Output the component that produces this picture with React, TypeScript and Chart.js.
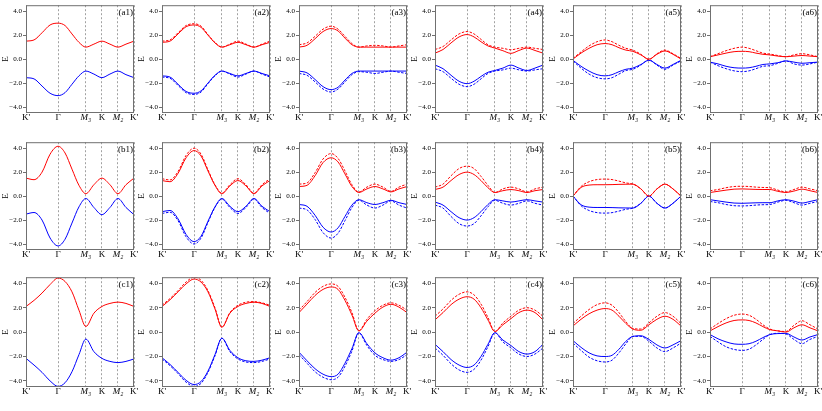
import React, { useEffect, useRef } from 'react';
import { Chart, registerables } from 'chart.js';
Chart.register(...registerables);

// k-path positions (K' -> Γ -> M3 -> K -> M2 -> K')
const kTicks = [0, 1, 1.866, 2.366, 2.866, 3.366];
const kTickLabels = ["K'", 'Γ', 'M₃', 'K', 'M₂', "K'"];
const yTicks = [-4, -2, 0, 2, 4];
const kx = [0, 0.25, 0.5, 0.75, 1, 1.217, 1.433, 1.65, 1.866, 2.116, 2.366, 2.616, 2.866, 3.116, 3.366];

// ---- row a ----
const a1Red = [1.5, 1.6, 2.2, 2.85, 3.0, 2.8, 2.1, 1.4, 1.0, 1.25, 1.5, 1.25, 1.0, 1.25, 1.5];
const a1Blue = [-1.55, -1.65, -2.25, -2.85, -3.05, -2.8, -2.1, -1.4, -1.0, -1.25, -1.55, -1.25, -1.0, -1.3, -1.55];

const a2RedSolid = [1.4, 1.5, 2.1, 2.7, 2.85, 2.65, 2.0, 1.35, 1.0, 1.2, 1.4, 1.2, 1.0, 1.2, 1.4];
const a2RedDash = [1.5, 1.6, 2.2, 2.8, 2.95, 2.75, 2.05, 1.4, 1.0, 1.25, 1.5, 1.25, 1.0, 1.25, 1.5];
const a2BlueSolid = [-1.4, -1.5, -2.1, -2.7, -2.85, -2.65, -2.0, -1.35, -1.0, -1.2, -1.4, -1.2, -1.0, -1.2, -1.4];
const a2BlueDash = [-1.5, -1.6, -2.2, -2.8, -2.95, -2.75, -2.05, -1.4, -1.0, -1.25, -1.5, -1.25, -1.0, -1.25, -1.5];

const a3RedSolid = [1.0, 1.15, 1.7, 2.3, 2.55, 2.35, 1.75, 1.2, 1.0, 1.0, 1.0, 1.0, 1.0, 1.0, 1.0];
const a3RedDash = [1.2, 1.35, 1.9, 2.5, 2.75, 2.5, 1.9, 1.3, 1.0, 1.1, 1.15, 1.1, 1.0, 1.1, 1.2];
const a3BlueSolid = [-1.0, -1.15, -1.7, -2.3, -2.55, -2.35, -1.75, -1.2, -1.0, -1.0, -1.0, -1.0, -1.0, -1.0, -1.0];
const a3BlueDash = [-1.2, -1.35, -1.9, -2.5, -2.75, -2.5, -1.9, -1.3, -1.05, -1.1, -1.2, -1.1, -1.0, -1.1, -1.2];

const a4RedSolid = [0.5, 0.8, 1.35, 1.85, 2.05, 1.85, 1.45, 1.1, 0.92, 0.7, 0.48, 0.72, 0.92, 0.72, 0.5];
const a4RedDash = [0.8, 1.05, 1.6, 2.1, 2.3, 2.1, 1.65, 1.2, 1.0, 0.9, 0.78, 0.9, 1.0, 0.9, 0.8];
const a4BlueSolid = [-0.5, -0.8, -1.35, -1.85, -2.05, -1.85, -1.45, -1.1, -0.95, -0.75, -0.5, -0.75, -0.95, -0.75, -0.5];
const a4BlueDash = [-0.8, -1.05, -1.6, -2.1, -2.3, -2.1, -1.65, -1.2, -1.0, -0.9, -0.75, -0.9, -1.0, -0.9, -0.8];

const a5RedSolid = [0.0, 0.5, 0.9, 1.2, 1.3, 1.2, 0.95, 0.75, 0.65, 0.35, 0.0, 0.4, 0.68, 0.4, 0.0];
const a5RedDash = [0.05, 0.6, 1.1, 1.45, 1.6, 1.45, 1.15, 0.9, 0.75, 0.4, -0.05, 0.45, 0.75, 0.45, 0.05];
const a5BlueSolid = [-0.1, -0.6, -1.0, -1.3, -1.4, -1.3, -1.05, -0.85, -0.75, -0.45, -0.1, -0.45, -0.75, -0.45, -0.1];
const a5BlueDash = [-0.15, -0.75, -1.25, -1.55, -1.65, -1.55, -1.25, -0.95, -0.85, -0.5, -0.05, -0.5, -0.85, -0.5, -0.15];

const a6RedSolid = [0.2, 0.35, 0.5, 0.62, 0.65, 0.62, 0.5, 0.4, 0.35, 0.25, 0.2, 0.25, 0.3, 0.25, 0.2];
const a6RedDash = [0.2, 0.45, 0.7, 0.9, 1.0, 0.9, 0.7, 0.5, 0.42, 0.3, 0.2, 0.35, 0.45, 0.35, 0.2];
const a6BlueSolid = [-0.25, -0.4, -0.6, -0.72, -0.75, -0.72, -0.6, -0.45, -0.4, -0.3, -0.15, -0.25, -0.35, -0.3, -0.25];
const a6BlueDash = [-0.25, -0.55, -0.8, -0.98, -1.05, -0.98, -0.8, -0.6, -0.55, -0.35, -0.15, -0.4, -0.5, -0.4, -0.25];

// ---- row b ----
const b1Red = [1.5, 1.37, 2.0, 3.5, 4.16, 3.6, 2.25, 0.9, 0.2, 0.95, 1.5, 0.95, 0.2, 0.95, 1.5];
const b1Blue = [-1.5, -1.37, -2.0, -3.5, -4.16, -3.6, -2.25, -0.9, -0.2, -0.95, -1.55, -0.95, -0.2, -0.95, -1.55];

const b2RedSolid = [1.3, 1.2, 1.9, 3.2, 3.8, 3.35, 2.1, 0.9, 0.2, 0.85, 1.3, 0.85, 0.2, 0.85, 1.3];
const b2RedDash = [1.45, 1.35, 2.05, 3.4, 4.0, 3.5, 2.2, 0.95, 0.25, 0.95, 1.45, 0.95, 0.25, 0.95, 1.45];
const b2BlueSolid = [-1.3, -1.2, -1.9, -3.2, -3.8, -3.35, -2.1, -0.9, -0.2, -0.85, -1.3, -0.85, -0.2, -0.85, -1.3];
const b2BlueDash = [-1.45, -1.35, -2.05, -3.4, -4.0, -3.5, -2.2, -0.95, -0.25, -0.95, -1.45, -0.95, -0.25, -0.95, -1.45];

const b3RedSolid = [0.8, 0.9, 1.7, 2.8, 3.2, 2.85, 1.85, 0.8, 0.3, 0.6, 0.8, 0.6, 0.35, 0.6, 0.8];
const b3RedDash = [1.0, 1.1, 1.95, 3.1, 3.55, 3.15, 2.1, 0.95, 0.35, 0.75, 1.0, 0.75, 0.4, 0.75, 1.0];
const b3BlueSolid = [-0.7, -0.85, -1.6, -2.6, -3.0, -2.65, -1.7, -0.75, -0.3, -0.55, -0.7, -0.55, -0.35, -0.55, -0.7];
const b3BlueDash = [-1.0, -1.15, -1.95, -3.05, -3.5, -3.1, -2.05, -0.95, -0.35, -0.75, -1.0, -0.75, -0.4, -0.75, -1.0];

const b4RedSolid = [0.55, 0.75, 1.3, 1.8, 2.0, 1.8, 1.3, 0.7, 0.3, 0.45, 0.55, 0.45, 0.3, 0.45, 0.55];
const b4RedDash = [0.75, 1.0, 1.7, 2.3, 2.5, 2.3, 1.65, 0.9, 0.3, 0.6, 0.75, 0.6, 0.35, 0.6, 0.75];
const b4BlueSolid = [-0.5, -0.75, -1.3, -1.8, -2.0, -1.8, -1.3, -0.7, -0.3, -0.4, -0.5, -0.4, -0.3, -0.4, -0.5];
const b4BlueDash = [-0.75, -1.0, -1.7, -2.3, -2.5, -2.3, -1.65, -0.9, -0.35, -0.6, -0.75, -0.6, -0.4, -0.6, -0.75];

const b5RedSolid = [0.0, 0.72, 0.92, 0.95, 0.95, 0.96, 0.98, 0.99, 1.0, 0.6, 0.0, 0.6, 1.0, 0.6, 0.0];
const b5RedDash = [0.0, 0.8, 1.2, 1.38, 1.42, 1.38, 1.25, 1.1, 1.0, 0.6, 0.0, 0.6, 1.0, 0.6, 0.0];
const b5BlueSolid = [0.0, -0.72, -0.92, -0.95, -0.95, -0.96, -0.98, -0.99, -1.0, -0.6, 0.0, -0.6, -1.0, -0.6, 0.0];
const b5BlueDash = [0.0, -0.8, -1.2, -1.38, -1.42, -1.38, -1.25, -1.1, -1.0, -0.6, 0.0, -0.6, -1.0, -0.6, 0.0];

const b6RedSolid = [0.3, 0.4, 0.5, 0.58, 0.6, 0.58, 0.56, 0.55, 0.55, 0.4, 0.3, 0.42, 0.58, 0.45, 0.3];
const b6RedDash = [0.45, 0.55, 0.7, 0.8, 0.82, 0.8, 0.75, 0.72, 0.7, 0.5, 0.35, 0.55, 0.75, 0.6, 0.45];
const b6BlueSolid = [-0.3, -0.4, -0.5, -0.58, -0.6, -0.58, -0.56, -0.55, -0.55, -0.4, -0.3, -0.42, -0.58, -0.45, -0.3];
const b6BlueDash = [-0.45, -0.55, -0.7, -0.8, -0.82, -0.8, -0.75, -0.72, -0.7, -0.5, -0.35, -0.55, -0.75, -0.6, -0.45];

// ---- row c ----
const c1Red = [2.1, 2.6, 3.2, 3.9, 4.43, 4.15, 3.3, 1.8, 0.46, 1.55, 2.1, 2.35, 2.46, 2.35, 2.1];
const c1Blue = [-2.15, -2.7, -3.3, -4.0, -4.45, -4.15, -3.25, -1.85, -0.57, -1.6, -2.15, -2.4, -2.5, -2.4, -2.2];

const c2RedSolid = [2.1, 2.65, 3.3, 3.95, 4.35, 4.1, 3.3, 1.9, 0.4, 1.55, 2.1, 2.35, 2.45, 2.35, 2.1];
const c2RedDash = [2.2, 2.75, 3.4, 4.1, 4.5, 4.25, 3.4, 2.0, 0.4, 1.6, 2.2, 2.45, 2.5, 2.4, 2.2];
const c2BlueSolid = [-2.1, -2.65, -3.3, -3.95, -4.3, -4.05, -3.2, -1.85, -0.5, -1.5, -2.1, -2.35, -2.4, -2.3, -2.1];
const c2BlueDash = [-2.2, -2.75, -3.4, -4.1, -4.45, -4.2, -3.3, -1.95, -0.5, -1.6, -2.2, -2.45, -2.5, -2.4, -2.2];

const c3RedSolid = [1.6, 2.3, 3.0, 3.5, 3.7, 3.5, 2.6, 1.4, 0.1, 0.9, 1.55, 2.05, 2.28, 2.05, 1.6];
const c3RedDash = [1.8, 2.5, 3.25, 3.75, 3.95, 3.75, 2.85, 1.6, 0.1, 1.05, 1.75, 2.2, 2.4, 2.2, 1.8];
const c3BlueSolid = [-1.65, -2.35, -3.0, -3.45, -3.65, -3.45, -2.55, -1.35, -0.05, -0.95, -1.7, -2.1, -2.3, -2.1, -1.65];
const c3BlueDash = [-1.85, -2.55, -3.25, -3.7, -3.9, -3.7, -2.8, -1.55, -0.05, -1.1, -1.9, -2.25, -2.4, -2.25, -1.85];

const c4RedSolid = [1.0, 1.6, 2.25, 2.7, 2.9, 2.7, 2.0, 1.0, 0.05, 0.6, 1.1, 1.6, 1.8, 1.6, 1.0];
const c4RedDash = [1.3, 1.9, 2.6, 3.1, 3.3, 3.05, 2.3, 1.2, 0.05, 0.75, 1.3, 1.8, 2.0, 1.8, 1.3];
const c4BlueSolid = [-1.0, -1.6, -2.25, -2.7, -2.9, -2.7, -2.0, -1.0, -0.05, -0.65, -1.1, -1.6, -1.8, -1.6, -1.0];
const c4BlueDash = [-1.3, -1.9, -2.6, -3.1, -3.3, -3.05, -2.3, -1.2, -0.05, -0.8, -1.3, -1.8, -2.0, -1.8, -1.3];

const c5RedSolid = [0.5, 1.05, 1.5, 1.8, 1.93, 1.8, 1.3, 0.7, 0.25, 0.15, 0.6, 1.05, 1.3, 1.05, 0.5];
const c5RedDash = [0.7, 1.3, 1.85, 2.25, 2.4, 2.2, 1.6, 0.85, 0.3, 0.25, 0.75, 1.3, 1.6, 1.3, 0.7];
const c5BlueSolid = [-0.7, -1.25, -1.7, -1.95, -2.0, -1.9, -1.4, -0.75, -0.35, -0.3, -0.6, -1.05, -1.3, -1.05, -0.7];
const c5BlueDash = [-0.9, -1.5, -2.05, -2.35, -2.45, -2.3, -1.7, -0.95, -0.35, -0.35, -0.75, -1.3, -1.6, -1.3, -0.9];

const c6RedSolid = [0.1, 0.45, 0.75, 0.95, 1.0, 0.95, 0.75, 0.45, 0.2, 0.1, 0.0, 0.35, 0.6, 0.35, 0.1];
const c6RedDash = [0.25, 0.7, 1.1, 1.38, 1.48, 1.38, 1.05, 0.6, 0.25, 0.1, 0.05, 0.55, 0.93, 0.6, 0.25];
const c6BlueSolid = [-0.2, -0.55, -0.8, -0.97, -1.0, -0.95, -0.75, -0.45, -0.2, -0.12, -0.1, -0.4, -0.65, -0.4, -0.2];
const c6BlueDash = [-0.35, -0.8, -1.2, -1.42, -1.5, -1.4, -1.05, -0.6, -0.2, -0.1, -0.15, -0.6, -0.95, -0.6, -0.35];

type Series = { values: number[]; color: string; dashed: boolean };
type PanelDef = { label: string; series: Series[] };

const RED = '#ff0000';
const BLUE = '#0000ff';
const s = (values: number[], color: string, dashed: boolean): Series => ({ values, color, dashed });
const four = (label: string, rs: number[], rd: number[], bs: number[], bd: number[]): PanelDef => ({
  label,
  series: [s(rd, RED, true), s(rs, RED, false), s(bd, BLUE, true), s(bs, BLUE, false)],
});

const panels: PanelDef[] = [
  { label: '(a1)', series: [s(a1Red, RED, false), s(a1Blue, BLUE, false)] },
  four('(a2)', a2RedSolid, a2RedDash, a2BlueSolid, a2BlueDash),
  four('(a3)', a3RedSolid, a3RedDash, a3BlueSolid, a3BlueDash),
  four('(a4)', a4RedSolid, a4RedDash, a4BlueSolid, a4BlueDash),
  four('(a5)', a5RedSolid, a5RedDash, a5BlueSolid, a5BlueDash),
  four('(a6)', a6RedSolid, a6RedDash, a6BlueSolid, a6BlueDash),
  { label: '(b1)', series: [s(b1Red, RED, false), s(b1Blue, BLUE, false)] },
  four('(b2)', b2RedSolid, b2RedDash, b2BlueSolid, b2BlueDash),
  four('(b3)', b3RedSolid, b3RedDash, b3BlueSolid, b3BlueDash),
  four('(b4)', b4RedSolid, b4RedDash, b4BlueSolid, b4BlueDash),
  four('(b5)', b5RedSolid, b5RedDash, b5BlueSolid, b5BlueDash),
  four('(b6)', b6RedSolid, b6RedDash, b6BlueSolid, b6BlueDash),
  { label: '(c1)', series: [s(c1Red, RED, false), s(c1Blue, BLUE, false)] },
  four('(c2)', c2RedSolid, c2RedDash, c2BlueSolid, c2BlueDash),
  four('(c3)', c3RedSolid, c3RedDash, c3BlueSolid, c3BlueDash),
  four('(c4)', c4RedSolid, c4RedDash, c4BlueSolid, c4BlueDash),
  four('(c5)', c5RedSolid, c5RedDash, c5BlueSolid, c5BlueDash),
  four('(c6)', c6RedSolid, c6RedDash, c6BlueSolid, c6BlueDash),
];

// layout (plot-area origin of each column / row)
const PLOT_LEFT = [26, 162, 299, 435, 573, 710];
const PLOT_TOP = [5, 142, 277];
const PLOT_HEIGHTS = [108, 108, 110];
const PLOT_W = 108;
const Y_AXIS_W = 26;
const X_AXIS_H = 20;
const PAD_TOP = 5;
const PAD_RIGHT = 6;
const CANVAS_W = Y_AXIS_W + PLOT_W + PAD_RIGHT;
const SERIF = '"Liberation Serif", "DejaVu Serif", serif';

const framePlugin = {
  id: 'panelFrame',
  afterDraw(chart: any, _args: any, opts: any) {
    const { ctx, chartArea } = chart;
    const { left, top, right, bottom } = chartArea;
    ctx.save();
    ctx.strokeStyle = '#707070';
    ctx.lineWidth = 1;
    ctx.setLineDash([]);
    ctx.strokeRect(left + 0.5, top + 0.5, right - left - 1, bottom - top - 1);
    ctx.fillStyle = '#000';
    ctx.font = `9px ${SERIF}`;
    ctx.textAlign = 'right';
    ctx.textBaseline = 'top';
    ctx.fillText(opts.label, right - 1, top + 3);
    ctx.restore();
  },
};

function Panel({ def, left, top, plotH }: { def: PanelDef; left: number; top: number; plotH: number }) {
  const ref = useRef<HTMLCanvasElement>(null);
  const canvasH = PAD_TOP + plotH + X_AXIS_H;
  useEffect(() => {
    if (!ref.current) return;
    const datasets = def.series.map((sr) => ({
      data: kx.map((x, i) => ({ x, y: sr.values[i] })),
      borderColor: sr.color,
      borderWidth: 1,
      borderDash: sr.dashed ? [2.5, 1.5] : [],
      pointRadius: 0,
      cubicInterpolationMode: 'monotone' as const,
      fill: false,
    }));
    const chart = new Chart(ref.current, {
      type: 'line',
      data: { datasets },
      plugins: [framePlugin],
      options: {
        responsive: false,
        animation: false,
        devicePixelRatio: 1,
        layout: { padding: { left: 0, right: PAD_RIGHT, top: PAD_TOP, bottom: 0 } },
        plugins: {
          legend: { display: false },
          tooltip: { enabled: false },
          panelFrame: { label: def.label },
        } as any,
        scales: {
          x: {
            type: 'linear',
            min: 0,
            max: 3.366,
            afterBuildTicks: (sc: any) => {
              sc.ticks = kTicks.map((v) => ({ value: v }));
            },
            afterFit: (sc: any) => {
              sc.height = X_AXIS_H;
            },
            ticks: {
              autoSkip: false,
              maxRotation: 0,
              padding: -1,
              color: '#000',
              font: (c: any) => ({
                family: SERIF,
                size: 9,
                style: c.index === 2 || c.index === 4 ? 'italic' : 'normal',
              }),
              callback: (_v: any, i: number) => kTickLabels[i],
            },
            grid: { color: '#8a8a8a', lineWidth: 0.8, drawTicks: false },
            border: { display: false, dash: [2, 2] },
          },
          y: {
            type: 'linear',
            min: -4.5,
            max: 4.5,
            afterBuildTicks: (sc: any) => {
              sc.ticks = yTicks.map((v) => ({ value: v }));
            },
            afterFit: (sc: any) => {
              sc.width = Y_AXIS_W;
            },
            ticks: {
              padding: 1,
              color: '#000',
              font: { family: SERIF, size: 7 },
              callback: (v: any) => (v < 0 ? '−' + Math.abs(v).toFixed(1) : Number(v).toFixed(1)),
            },
            grid: { drawOnChartArea: false, drawTicks: true, tickLength: 3, color: '#707070' },
            border: { display: false },
            title: { display: true, text: 'E', color: '#000', font: { family: SERIF, size: 9 }, padding: 0 },
          },
        },
      } as any,
    });
    return () => chart.destroy();
  }, [def, plotH]);
  return (
    <canvas
      ref={ref}
      width={CANVAS_W}
      height={canvasH}
      style={{ position: 'absolute', left, top, width: CANVAS_W, height: canvasH }}
    />
  );
}

export default function App() {
  return (
    <div style={{ position: 'absolute', left: 0, top: 0, width: 822, height: 411, background: '#fff' }}>
      {panels.map((p, idx) => {
        const col = idx % 6;
        const row = Math.floor(idx / 6);
        return (
          <Panel
            key={p.label}
            def={p}
            left={PLOT_LEFT[col] - Y_AXIS_W}
            top={PLOT_TOP[row] - PAD_TOP}
            plotH={PLOT_HEIGHTS[row]}
          />
        );
      })}
    </div>
  );
}
